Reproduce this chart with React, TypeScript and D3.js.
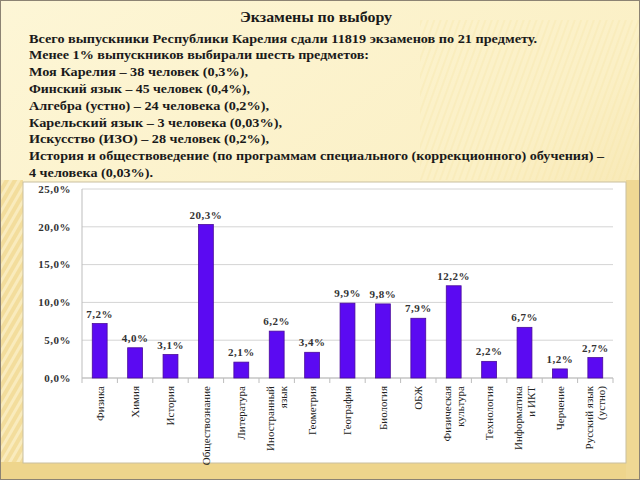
import React from "react";
import * as d3 from "d3";

const titleText = "Экзамены по выбору";
const introLines = [
  "Всего выпускники Республики Карелия сдали 11819 экзаменов по 21 предмету.",
  "Менее 1% выпускников выбирали шесть предметов:",
  "Моя Карелия – 38 человек (0,3%),",
  "Финский язык – 45 человек (0,4%),",
  "Алгебра (устно) – 24 человека (0,2%),",
  "Карельский язык – 3 человека (0,03%),",
  "Искусство (ИЗО) – 28 человек (0,2%),",
  "История и обществоведение (по программам специального (коррекционного) обучения) –",
  "4 человека (0,03%).",
];
const introWidths = [508, 340, 219, 221, 240, 253, 240, 575, 124];

const categories: string[][] = [
  ["Физика"],
  ["Химия"],
  ["История"],
  ["Обществознание"],
  ["Литература"],
  ["Иностранный", "язык"],
  ["Геометрия"],
  ["География"],
  ["Биология"],
  ["ОБЖ"],
  ["Физическая", "культура"],
  ["Технология"],
  ["Информатика", "и ИКТ"],
  ["Черчение"],
  ["Русский язык", "(устно)"],
];
const values = [7.2, 4.0, 3.1, 20.3, 2.1, 6.2, 3.4, 9.9, 9.8, 7.9, 12.2, 2.2, 6.7, 1.2, 2.7];
const yTicks = [0, 5, 10, 15, 20, 25];

const W = 640;
const H = 480;
const plot = { left: 82, right: 613, top: 189, bottom: 378 };

const pct = (v: number) => d3.format(".1f")(v).replace(".", ",") + "%";

export default function App() {
  const x = d3
    .scaleBand<number>()
    .domain(categories.map((_, i) => i))
    .range([plot.left, plot.right])
    .paddingInner(0)
    .paddingOuter(0);
  const y = d3.scaleLinear().domain([0, 25]).range([plot.bottom, plot.top]);
  const barW = x.bandwidth() * 0.42;
  const serif = "Liberation Serif, DejaVu Serif, serif";

  return (
    <svg
      width={W}
      height={H}
      style={{ position: "fixed", left: 0, top: 0 }}
      xmlns="http://www.w3.org/2000/svg"
    >
      <defs>
        <linearGradient id="bg" x1="0" y1="0" x2="1" y2="1">
          <stop offset="0" stopColor="#fdf6d6" />
          <stop offset="0.55" stopColor="#fbf0c6" />
          <stop offset="1" stopColor="#f1da96" />
        </linearGradient>
        <pattern id="stripes" width="7" height="7" patternUnits="userSpaceOnUse" patternTransform="rotate(30)">
          <rect width="7" height="7" fill="#f3dd9c" />
          <rect width="3" height="7" fill="#f9ebbd" />
        </pattern>
        <pattern id="stripesLight" width="6" height="6" patternUnits="userSpaceOnUse" patternTransform="rotate(20)">
          <rect width="2" height="6" fill="#f6e4a8" opacity="0.35" />
        </pattern>
      </defs>

      {/* slide background */}
      <rect x={0} y={0} width={W} height={H} fill="url(#bg)" />
      <rect x={420} y={20} width={220} height={160} fill="url(#stripesLight)" />
      <rect x={0} y={180} width={23} height={H - 180} fill="url(#stripes)" />
      <rect x={0} y={462} width={W} height={18} fill="#eed58c" />
      <rect x={626} y={180} width={14} height={300} fill="#efd894" />
      <rect x={0.5} y={0.5} width={W - 1} height={H - 1} fill="none" stroke="#8c8373" strokeWidth={1} />

      {/* title and text */}
      <text x={316} y={22} textAnchor="middle" style={{ fontFamily: serif }} fontWeight="bold" fontSize={15} fill="#1a1a1a"
        textLength={152} lengthAdjust="spacingAndGlyphs">
        {titleText}
      </text>
      {introLines.map((line, i) => (
        <text
          key={i}
          x={29}
          y={42.5 + i * 16.8}
          style={{ fontFamily: serif }}
          fontWeight="bold"
          fontSize={13.5}
          fill="#1a1a1a"
          textLength={introWidths[i]}
          lengthAdjust="spacingAndGlyphs"
        >
          {line}
        </text>
      ))}

      {/* chart box */}
      <rect x={23} y={182} width={603} height={281} fill="#ffffff" stroke="#c9bf9f" strokeWidth={1} />

      {/* gridlines */}
      {yTicks.map((t) => (
        <line key={t} x1={plot.left} x2={plot.right} y1={y(t)} y2={y(t)} stroke="#d4d4d4" strokeWidth={1} />
      ))}
      <line x1={plot.left} x2={plot.left} y1={plot.top} y2={plot.bottom} stroke="#bdbdbd" />
      <line x1={plot.left} x2={plot.right} y1={plot.bottom} y2={plot.bottom} stroke="#bdbdbd" />
      {categories.map((_, i) => (
        <line key={i} x1={x(i)!} x2={x(i)!} y1={plot.bottom} y2={plot.bottom + 5} stroke="#bdbdbd" />
      ))}
      <line x1={plot.right} x2={plot.right} y1={plot.bottom} y2={plot.bottom + 5} stroke="#bdbdbd" />

      {/* y labels */}
      {yTicks.map((t) => (
        <text key={t} x={71} y={y(t)} dy="0.35em" textAnchor="end" style={{ fontFamily: serif }} fontWeight="bold"
          fontSize={11} fill="#333" letterSpacing={0.5}>
          {pct(t)}
        </text>
      ))}

      {/* bars */}
      {values.map((v, i) => {
        const cx = x(i)! + x.bandwidth() / 2;
        return (
          <g key={i}>
            <rect
              x={cx - barW / 2}
              y={y(v)}
              width={barW}
              height={plot.bottom - y(v)}
              fill="#5b0af2"
              stroke="#4a0a9a"
              strokeWidth={0.8}
            />
            <text x={cx} y={y(v) - 6} textAnchor="middle" style={{ fontFamily: serif }} fontWeight="bold" fontSize={11}
              fill="#333" letterSpacing={0.5}>
              {pct(v)}
            </text>
          </g>
        );
      })}

      {/* x labels */}
      {categories.map((lines, i) => {
        const cx = x(i)! + x.bandwidth() / 2;
        const first = 0.35 - ((lines.length - 1) * 1.15) / 2;
        return (
          <text key={i} transform={`translate(${cx},${plot.bottom + 8}) rotate(-90)`} textAnchor="end"
            style={{ fontFamily: serif }} fontSize={11} fill="#222">
            {lines.map((l, j) => (
              <tspan key={j} x={0} dy={j === 0 ? `${first}em` : "1.15em"}>
                {l}
              </tspan>
            ))}
          </text>
        );
      })}
    </svg>
  );
}
